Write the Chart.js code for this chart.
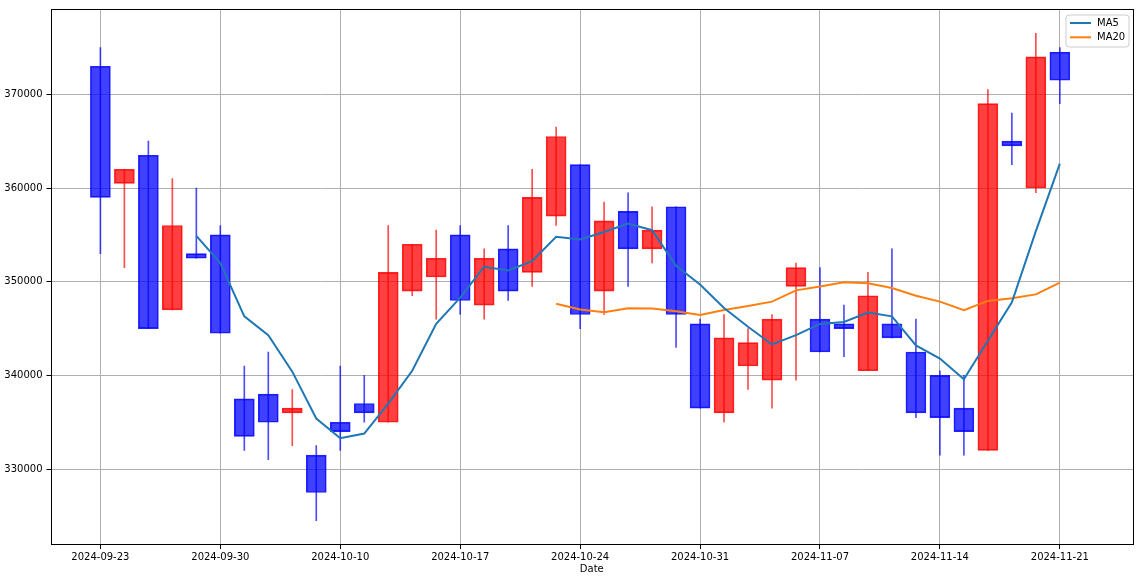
<!DOCTYPE html>
<html>
<head>
<meta charset="utf-8">
<script src="https://cdn.jsdelivr.net/npm/chart.js@4.4.1/dist/chart.umd.min.js"></script>
<style>
  html, body { margin: 0; padding: 0; background: #ffffff; }
  #wrap { width: 1140px; height: 582px; }
</style>
</head>
<body>
<div id="wrap"><canvas id="c" width="1140" height="582"></canvas></div>
<script>
// ---- data ----
const dates = ["2024-09-23","2024-09-24","2024-09-25","2024-09-26","2024-09-27","2024-09-30",
  "2024-10-02","2024-10-04","2024-10-07","2024-10-08","2024-10-10","2024-10-11","2024-10-14",
  "2024-10-15","2024-10-16","2024-10-17","2024-10-18","2024-10-21","2024-10-22","2024-10-23",
  "2024-10-24","2024-10-25","2024-10-28","2024-10-29","2024-10-30","2024-10-31","2024-11-01",
  "2024-11-04","2024-11-05","2024-11-06","2024-11-07","2024-11-08","2024-11-11","2024-11-12",
  "2024-11-13","2024-11-14","2024-11-15","2024-11-18","2024-11-19","2024-11-20","2024-11-21"];

const openP  = [373000,360500,363500,347000,353000,355000,337500,338000,336000,331500,335000,337000,335000,
  349000,350500,355000,347500,353500,351000,357000,362500,349000,357500,353500,358000,345500,336000,
  341000,339500,349500,346000,345500,340500,345500,342500,340000,336500,332000,365000,360000,374500];
const highP  = [375000,362000,365000,361000,360000,356000,341000,342500,338500,332500,341000,340000,356000,
  354000,355500,356000,353500,356000,362000,366500,362500,358500,359500,358000,358000,346000,346500,
  345000,346500,352000,351500,347500,351000,353500,346000,340500,340000,370500,368000,376500,375000];
const lowP   = [353000,351500,345000,347000,352500,344500,332000,331000,332500,324500,332000,335000,335000,
  348500,346000,346500,346000,348000,349500,356000,345000,346500,349500,352000,343000,336500,335000,
  338500,336500,339500,342500,342000,340500,344000,335500,331500,331500,332000,362500,359500,369000];
const closeP = [359000,362000,345000,356000,352500,344500,333500,335000,336500,327500,334000,336000,351000,
  354000,352500,348000,352500,349000,359000,365500,346500,356500,353500,355500,346500,336500,344000,
  343500,346000,351500,342500,345000,348500,344000,336000,335500,334000,369000,364500,374000,371500];

// moving averages as drawn (start at index 4 and 19)
const ma5Start = 4;
const ma5 = [354900,352000,346300,344300,340400,335400,333300,333800,337000,340500,345500,348300,351600,
  351200,352200,354800,354500,355300,356200,355500,351700,349700,347200,345200,343300,344300,345500,
  345700,346700,346300,343200,341800,339600,343700,347800,355400,362600];
const ma20Start = 19;
const ma20 = [347650,347025,346750,347175,347150,346850,346450,346975,347400,347875,349075,349500,349950,
  349825,349325,348500,347875,346950,347950,348225,348650,349900];

const xTickIdx = [0,5,10,15,20,25,30,35,40];
const yTicks = [330000,340000,350000,360000,370000];

// ---- build datasets ----
const isUp = closeP.map((c,i) => c >= openP[i]);
const bodyFill = isUp.map(u => u ? 'rgba(255,0,0,0.75)' : 'rgba(0,0,255,0.75)');
const bodyEdge = isUp.map(u => u ? 'rgba(255,0,0,0.85)' : 'rgba(0,0,255,0.85)');
const wickCol  = isUp.map(u => u ? 'rgba(255,0,0,0.7)' : 'rgba(0,0,255,0.7)');

const bodyData = openP.map((o,i) => ({x: i, y: [o, closeP[i]]}));
const wickData = lowP.map((l,i) => ({x: i, y: [l, highP[i]]}));
const ma5Data = ma5.map((v,k) => ({x: ma5Start + k, y: v}));
const ma20Data = ma20.map((v,k) => ({x: ma20Start + k, y: v}));

Chart.defaults.font.family = "'DejaVu Sans', sans-serif";
Chart.defaults.font.size = 10;
Chart.defaults.color = '#000000';

const frameAndLegend = {
  id: 'frameAndLegend',
  afterDraw(chart) {
    const {ctx, chartArea: a} = chart;
    ctx.save();
    ctx.strokeStyle = '#000000';
    ctx.lineWidth = 1;
    ctx.strokeRect(Math.round(a.left) + 0.5, Math.round(a.top) - 0.5,
                   Math.round(a.right - a.left) - 1, Math.round(a.bottom - a.top) + 0);
    // legend box (upper right inside axes)
    const bx = a.right - 67, by = a.top + 5, bw = 63, bh = 32, r = 3;
    ctx.beginPath();
    ctx.moveTo(bx + r, by);
    ctx.lineTo(bx + bw - r, by);
    ctx.arcTo(bx + bw, by, bx + bw, by + r, r);
    ctx.lineTo(bx + bw, by + bh - r);
    ctx.arcTo(bx + bw, by + bh, bx + bw - r, by + bh, r);
    ctx.lineTo(bx + r, by + bh);
    ctx.arcTo(bx, by + bh, bx, by + bh - r, r);
    ctx.lineTo(bx, by + r);
    ctx.arcTo(bx, by, bx + r, by, r);
    ctx.closePath();
    ctx.fillStyle = 'rgba(255,255,255,0.8)';
    ctx.fill();
    ctx.strokeStyle = '#cccccc';
    ctx.stroke();
    const items = [['MA5', '#1f77b4'], ['MA20', '#ff7f0e']];
    ctx.font = "10px 'DejaVu Sans', sans-serif";
    ctx.textBaseline = 'middle';
    ctx.textAlign = 'left';
    items.forEach((it, k) => {
      const yy = by + 8 + k * 14.3;
      ctx.strokeStyle = it[1];
      ctx.lineWidth = 2;
      ctx.beginPath();
      ctx.moveTo(bx + 4, yy);
      ctx.lineTo(bx + 25, yy);
      ctx.stroke();
      ctx.fillStyle = '#000000';
      ctx.fillText(it[0], bx + 31, yy + 0.5);
    });
    ctx.restore();
  }
};

new Chart(document.getElementById('c'), {
  type: 'bar',
  data: {
    datasets: [
      { type: 'line', label: 'MA5', data: ma5Data, borderColor: '#1f77b4', borderWidth: 2,
        pointRadius: 0, fill: false, tension: 0, order: 0 },
      { type: 'line', label: 'MA20', data: ma20Data, borderColor: '#ff7f0e', borderWidth: 2,
        pointRadius: 0, fill: false, tension: 0, order: 1 },
      { type: 'bar', label: 'body', data: bodyData, backgroundColor: bodyFill, borderColor: bodyEdge,
        borderWidth: 1, borderSkipped: false, barThickness: 20, grouped: false, order: 2 },
      { type: 'bar', label: 'wick', data: wickData, backgroundColor: wickCol, borderWidth: 0,
        barThickness: 1, grouped: false, order: 3 }
    ]
  },
  options: {
    responsive: false,
    animation: false,
    devicePixelRatio: 1,
    layout: { padding: { left: 0, top: 7.5, right: 7, bottom: 0 } },
    plugins: { legend: { display: false }, tooltip: { enabled: false } },
    scales: {
      x: {
        type: 'linear',
        min: -2.08,
        max: 43.05,
        offset: false,
        grid: { offset: false, color: '#b0b0b0', lineWidth: 1, drawTicks: true, tickLength: 4, tickColor: '#000000' },
        border: { display: false },
        afterBuildTicks: s => { s.ticks = xTickIdx.map(v => ({value: v})); },
        afterFit: s => { s.height = 37; },
        ticks: { padding: 2, maxRotation: 0, autoSkip: false, color: '#000000',
                 callback: v => dates[v] },
        title: { display: true, text: 'Date', color: '#000000', padding: { top: 0, bottom: 7 } }
      },
      y: {
        type: 'linear',
        min: 321900,
        max: 379000,
        grid: { color: '#b0b0b0', lineWidth: 1, drawTicks: true, tickLength: 4, tickColor: '#000000' },
        border: { display: false },
        afterBuildTicks: s => { s.ticks = yTicks.map(v => ({value: v})); },
        afterFit: s => { s.width = 50.5; },
        ticks: { padding: 4, color: '#000000', callback: v => String(v) }
      }
    }
  },
  plugins: [frameAndLegend]
});
</script>
</body>
</html>
